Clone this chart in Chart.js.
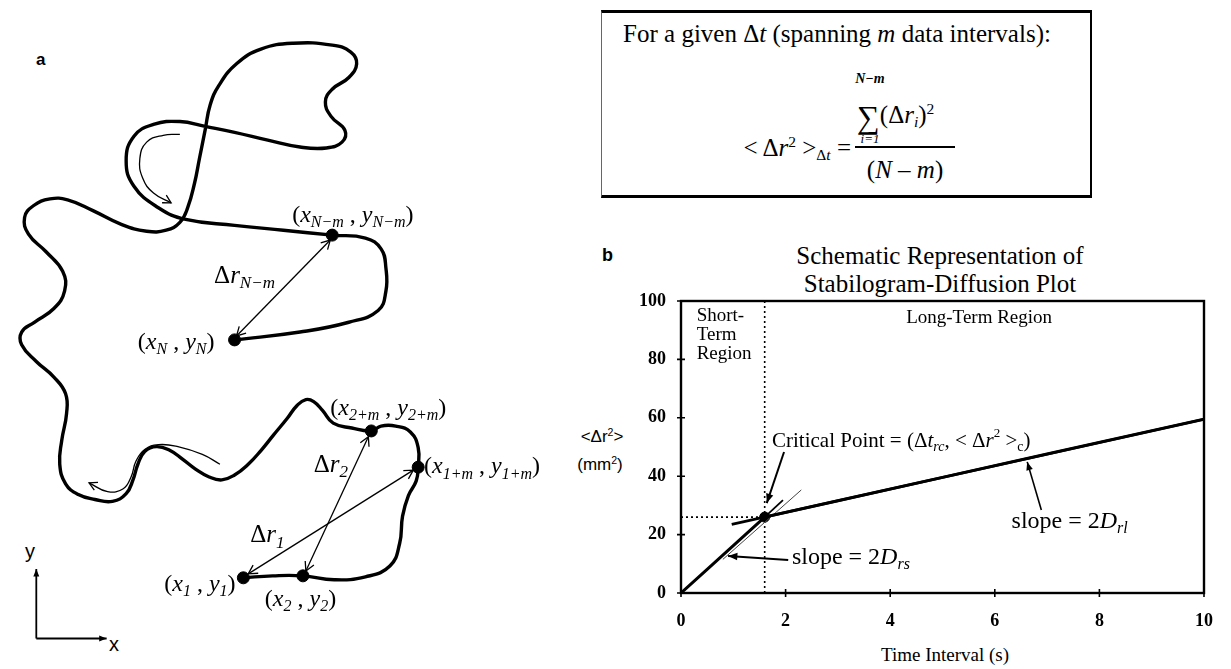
<!DOCTYPE html>
<html>
<head>
<meta charset="utf-8">
<script src="https://cdn.jsdelivr.net/npm/chart.js@4.4.1/dist/chart.umd.min.js"></script>
<style>
  body { margin:0; background:#fff; width:1231px; height:669px; position:relative; overflow:hidden; font-family:"Liberation Serif", "Times New Roman", serif; color:#000; }
  canvas { position:absolute; }
  #trajetoria { left:0; top:0; }
  #difusao { left:560px; top:230px; }
  .t { position:absolute; white-space:nowrap; line-height:1; }
  .t sub, .t sup { font-size:0.62em; line-height:0; }
  .t sub { vertical-align:-0.25em; }
  .t sup { vertical-align:0.55em; }
  .sans { font-family:"Liberation Sans", Arial, sans-serif; }
  .caixa { position:absolute; left:601px; top:10px; width:491px; height:188px; box-sizing:border-box;
           border-top:3px solid #000; border-bottom:3px solid #000; border-left:1px solid #666; border-right:2px solid #000; }
</style>
</head>
<body>
<div class="caixa"></div>
<div class="t" style="left:607px;top:21px;width:460px;text-align:center;font-size:25px">For a given Δ<i>t</i> (spanning <i>m</i> data intervals):</div>
<div class="t" style="left:850px;top:72px;width:40px;text-align:center;font-size:14px;font-style:italic;font-weight:bold">N−m</div>
<div class="t" style="left:857px;top:101px;font-size:25px"><span style="font-size:32px;vertical-align:-5px">∑</span>(Δ<i>r</i><sub><i>i</i></sub>)<sup>2</sup></div>
<div class="t" style="left:850px;top:132px;width:40px;text-align:center;font-size:13px;font-style:italic">i=1</div>
<div class="t" style="left:855px;top:146px;width:100px;height:2px;background:#000"></div>
<div class="t" style="left:845px;top:157px;width:120px;text-align:center;font-size:25px">(<i>N</i> – <i>m</i>)</div>
<div class="t" style="left:680px;top:135px;width:171px;text-align:right;font-size:25px">&lt; Δ<i>r</i><sup>2</sup> &gt;<sub>Δ<i>t</i></sub> =</div>

<div class="t sans" style="left:36px;top:51px;font-size:17px;font-weight:bold">a</div>
<div class="t sans" style="left:602px;top:246px;font-size:18px;font-weight:bold">b</div>
<div class="t" style="left:740px;top:243px;width:400px;text-align:center;font-size:25px">Schematic Representation of</div>
<div class="t" style="left:740px;top:271px;width:400px;text-align:center;font-size:25px">Stabilogram-Diffusion Plot</div>
<div class="t sans" style="left:567px;top:428px;width:70px;text-align:center;font-size:17px">&lt;Δr<sup>2</sup>&gt;</div>
<div class="t sans" style="left:565px;top:456px;width:70px;text-align:center;font-size:17px">(mm<sup>2</sup>)</div>
<div class="t" style="left:845px;top:645px;width:200px;text-align:center;font-size:19px">Time Interval (s)</div>
<div class="t sans" style="left:25px;top:541px;font-size:20px">y</div>
<div class="t sans" style="left:109px;top:634px;font-size:20px">x</div>

<canvas id="trajetoria" width="600" height="669"></canvas>
<canvas id="difusao" width="671" height="439"></canvas>

<script>
// --- Dados do painel b (deslocamento quadrático médio x intervalo de tempo) ---
const tempos = [0, 0.5, 1.0, 1.6, 3, 5, 7, 10];
const msd = [0, 8.1, 16.2, 26, 31.6, 39.6, 47.6, 59.5];
const ticksX = [0, 2, 4, 6, 8, 10];
const ticksY = [0, 20, 40, 60, 80, 100];
const criticoT = [1.6];
const criticoV = [26];
const curtoT = [0.8, 2.3];
const curtoV = [11.5, 35.3];
const curto2T = [1.3, 1.95];
const curto2V = [21, 31.8];
const longoT = [0.97, 10];
const longoV = [23.5, 59.5];

// --- Dados do painel a (trajetória esquemática, y para cima) ---
const trajX = [242,272,303,335,367,392,402,405,411,419,421,421,413,398,383,373,353,334,323,314,306,297,287,273,260,247,233,220,207,193,180,167,153,141,134,129,122,108,90,73,60,54,56,61,60,48,30,15,15,28,48,59,57,40,22,18,27,44,62,88,117,143,163,177,
  185,192,197,203,208,217,235,260,293,333,352,358,350,333,326,332,346,343,327,300,267,233,203,177,150,130,122,130,155,183,233,283,333,367,383,388,388,380,350,300,233];
const trajY = [86,88,88,84,87,98,121,149,170,185,199,219,235,241,241,236,239,244,257,266,268,262,249,232,216,202,191,186,189,197,207,216,220,215,202,186,172,164,166,171,182,202,226,254,274,291,307,324,337,347,361,379,399,419,437,454,466,473,472,461,447,440,441,449,
  464,489,514,544,569,589,611,626,632,630,623,611,597,585,572,557,543,531,525,526,533,541,547,552,549,537,512,486,464,452,446,441,436,433,422,402,379,359,347,337,329];
const pontosX = [242, 303, 421, 373, 333, 233];
const pontosY = [86, 88, 199, 236, 436, 329];
const lacoX = [177, 160, 143, 136, 139, 150, 168];
const lacoY = [539, 538, 531, 514, 494, 479, 469];
const ondaX = [218, 200, 175, 155, 141, 132, 127, 119, 103, 84];
const ondaY = [202, 212, 220, 222, 217, 205, 189, 177, 174, 183];
const drNmX = [331, 235], drNmY = [431, 333];
const dr1X = [247, 416], dr1Y = [90, 196];
const dr2X = [306, 370], dr2Y = [93, 230];

const juntar = (xs, ys)=>xs.map((x,i)=>({x:x, y:ys[i]}));

// --- Funções de desenho ---
function ponta(ctx, a, b, tam, cheia){
    const ang = Math.atan2(b.y-a.y, b.x-a.x);
    const abre = cheia ? 0.38 : 0.5;
    ctx.beginPath();
    ctx.moveTo(b.x - tam*Math.cos(ang-abre), b.y - tam*Math.sin(ang-abre));
    ctx.lineTo(b.x, b.y);
    ctx.lineTo(b.x - tam*Math.cos(ang+abre), b.y - tam*Math.sin(ang+abre));
    if(cheia){ ctx.closePath(); ctx.fill(); } else ctx.stroke();
}

const pluginSetas = {
    id:'setas',
    afterDatasetsDraw(chart){
        const ctx = chart.ctx;
        chart.data.datasets.forEach((ds,i)=>{
            if(!ds.seta) return;
            const pts = chart.getDatasetMeta(i).data;
            if(pts.length<2) return;
            ctx.save();
            ctx.strokeStyle = ctx.fillStyle = '#000';
            ctx.lineWidth = ds.borderWidth;
            ctx.setLineDash([]);
            const tam = ds.tamSeta || 9;
            ponta(ctx, pts[pts.length-2], pts[pts.length-1], tam, ds.setaCheia);
            if(ds.seta==='ambas') ponta(ctx, pts[1], pts[0], tam, ds.setaCheia);
            ctx.restore();
        });
    }
};

// texto com itálico, subscrito e sobrescrito
function textoRico(ctx, x, y, partes, tam, alinha){
    const fam = '"Liberation Serif", "Times New Roman", serif';
    const segs = partes.map(([estilo, txt])=>{
        let f = tam, dy = 0;
        if(estilo.includes('_')){ f = Math.round(tam*0.68); dy = tam*0.3; }
        if(estilo.includes('^')){ f = Math.round(tam*0.64); dy = -tam*0.38; }
        const font = (estilo.includes('i') ? 'italic ' : '') + f + 'px ' + fam;
        ctx.font = font;
        return {txt, font, dy, w: ctx.measureText(txt).width};
    });
    const total = segs.reduce((s,g)=>s+g.w, 0);
    let cx = alinha==='center' ? x-total/2 : (alinha==='right' ? x-total : x);
    ctx.textBaseline = 'middle';
    ctx.textAlign = 'left';
    segs.forEach(g=>{ ctx.font = g.font; ctx.fillText(g.txt, cx, y+g.dy); cx += g.w; });
}

function criarRotulos(itens){
    return {
        id:'rotulos',
        afterDatasetsDraw(chart){
            const ctx = chart.ctx;
            ctx.save();
            ctx.fillStyle = '#000';
            itens.forEach(r=>{
                const px = chart.scales.x.getPixelForValue(r.x);
                const py = chart.scales.y.getPixelForValue(r.y);
                textoRico(ctx, px, py, r.partes, r.tam, r.alinha || 'left');
            });
            ctx.restore();
        }
    };
}

// --- Painel a ---
const coord = (a, b)=>[['r','('],['i','x'],['i_',a],['r',' , '],['i','y'],['i_',b],['r',')']];
const rotulosA = [
    {x:292, y:456, tam:24, partes:coord('N−m','N−m')},
    {x:212, y:394, tam:25, partes:[['r','Δ'],['i','r'],['i_','N−m']]},
    {x:134, y:326, tam:24, partes:coord('N','N')},
    {x:331, y:259, tam:24, partes:coord('2+m','2+m')},
    {x:427, y:199, tam:24, partes:coord('1+m','1+m')},
    {x:314, y:201, tam:25, partes:[['r','Δ'],['i','r'],['i_','2']]},
    {x:249, y:129, tam:25, partes:[['r','Δ'],['i','r'],['i_','1']]},
    {x:161, y:79, tam:24, partes:coord('1','1')},
    {x:264, y:64, tam:24, partes:coord('2','2')}
];

const linhaFina = (xs, ys, extra)=>Object.assign({
    data: juntar(xs, ys), showLine:true, borderColor:'#000', borderWidth:1.3, pointRadius:0, tension:0
}, extra);

new Chart(document.getElementById('trajetoria'), {
    type:'scatter',
    data:{
        datasets:[
            {data: juntar(trajX, trajY), showLine:true, borderColor:'#000', borderWidth:3.4, pointRadius:0, tension:0.45},
            linhaFina(lacoX, lacoY, {tension:0.45, seta:'fim', tamSeta:9}),
            linhaFina(ondaX, ondaY, {tension:0.45, seta:'fim', tamSeta:9}),
            linhaFina(drNmX, drNmY, {seta:'ambas', tamSeta:10}),
            linhaFina(dr1X, dr1Y, {seta:'ambas', tamSeta:10}),
            linhaFina(dr2X, dr2Y, {seta:'ambas', tamSeta:10}),
            linhaFina([30, 30], [24, 95], {borderWidth:1.8, seta:'fim', setaCheia:true, tamSeta:8}),
            linhaFina([30, 102], [24, 24], {borderWidth:1.8, seta:'fim', setaCheia:true, tamSeta:8}),
            {data: juntar(pontosX, pontosY), showLine:false, pointRadius:6, pointBackgroundColor:'#000', pointBorderColor:'#000'}
        ]
    },
    options:{
        responsive:false, animation:false, events:[], devicePixelRatio:1,
        layout:{ padding:0 },
        plugins:{ legend:{display:false}, tooltip:{enabled:false} },
        scales:{
            x:{ type:'linear', display:false, min:0, max:600 },
            y:{ type:'linear', display:false, min:0, max:669 }
        }
    },
    plugins:[pluginSetas, criarRotulos(rotulosA)]
});

// --- Painel b ---
const rotulosB = [
    {x:0.3, y:95.0, tam:19, partes:[['r','Short-']]},
    {x:0.3, y:88.4, tam:19, partes:[['r','Term']]},
    {x:0.3, y:81.8, tam:19, partes:[['r','Region']]},
    {x:5.7, y:94.2, tam:19, alinha:'center', partes:[['r','Long-Term Region']]},
    {x:1.74, y:52, tam:21, partes:[['r','Critical Point = (Δ'],['i','t'],['i_','rc'],['r',', < Δ'],['i','r'],['r^','2'],['r',' >'],['r_','c'],['r',')']]},
    {x:2.12, y:12, tam:24, partes:[['r','slope = 2'],['i','D'],['i_','rs']]},
    {x:6.32, y:24.3, tam:24, partes:[['r','slope = 2'],['i','D'],['i_','rl']]}
];

const pluginMoldura = {
    id:'moldura',
    afterDatasetsDraw(chart){
        const ctx = chart.ctx;
        const {left, right, top, bottom} = chart.chartArea;
        ctx.save();
        ctx.strokeStyle = '#000';
        ctx.lineWidth = 2.4;
        ctx.strokeRect(left, top, right-left, bottom-top);
        ctx.lineWidth = 1.6;
        ctx.beginPath();
        ticksY.forEach(v=>{
            const y = chart.scales.y.getPixelForValue(v);
            ctx.moveTo(left-4, y); ctx.lineTo(left+4, y);
        });
        ticksX.forEach(v=>{
            const x = chart.scales.x.getPixelForValue(v);
            ctx.moveTo(x, bottom-4); ctx.lineTo(x, bottom+4);
        });
        ctx.stroke();
        ctx.restore();
    }
};

const fonteEixo = { family:'"Liberation Serif", serif', size:18, weight:'bold' };

new Chart(document.getElementById('difusao'), {
    type:'scatter',
    data:{
        datasets:[
            {data: juntar(tempos, msd), showLine:true, borderColor:'#000', borderWidth:3, pointRadius:0},
            {data: juntar(longoT, longoV), showLine:true, borderColor:'#000', borderWidth:2.6, pointRadius:0},
            {data: juntar(curtoT, curtoV), showLine:true, borderColor:'#444', borderWidth:1, pointRadius:0},
            {data: juntar(curto2T, curto2V), showLine:true, borderColor:'#000', borderWidth:1.8, pointRadius:0},
            {data: juntar([criticoT[0], criticoT[0]], [0, 100]), showLine:true, borderColor:'#000', borderWidth:1.6, borderDash:[2,3], pointRadius:0},
            {data: juntar([0, criticoT[0]], [criticoV[0], criticoV[0]]), showLine:true, borderColor:'#000', borderWidth:1.6, borderDash:[2,3], pointRadius:0},
            {data: juntar(criticoT, criticoV), showLine:false, pointRadius:5, pointBackgroundColor:'#000', pointBorderColor:'#000'},
            {data: juntar([1.97, 1.64], [48.3, 30.8]), showLine:true, borderColor:'#000', borderWidth:2, pointRadius:0, seta:'fim', setaCheia:true, tamSeta:10},
            {data: juntar([2.05, 0.9], [11.3, 12.7]), showLine:true, borderColor:'#000', borderWidth:2, pointRadius:0, seta:'fim', setaCheia:true, tamSeta:10},
            {data: juntar([6.89, 6.62], [28.4, 44.9]), showLine:true, borderColor:'#000', borderWidth:1.6, pointRadius:0, seta:'fim', setaCheia:true, tamSeta:9}
        ]
    },
    options:{
        responsive:false, animation:false, events:[], devicePixelRatio:1,
        layout:{ padding:{ left:0, top:71, right:26, bottom:0 } },
        plugins:{ legend:{display:false}, tooltip:{enabled:false} },
        scales:{
            x:{
                type:'linear', min:0, max:10,
                afterBuildTicks: s=>{ s.ticks = ticksX.map(v=>({value:v})); },
                afterFit: s=>{ s.height = 76; },
                grid:{ display:false, drawTicks:false }, border:{ display:false },
                ticks:{ padding:18, color:'#000', font:fonteEixo, maxRotation:0 }
            },
            y:{
                type:'linear', min:0, max:100,
                afterBuildTicks: s=>{ s.ticks = ticksY.map(v=>({value:v})); },
                afterFit: s=>{ s.width = 121; },
                grid:{ display:false, drawTicks:false }, border:{ display:false },
                ticks:{ padding:15, color:'#000', font:fonteEixo }
            }
        }
    },
    plugins:[pluginMoldura, pluginSetas, criarRotulos(rotulosB)]
});
</script>
</body>
</html>
